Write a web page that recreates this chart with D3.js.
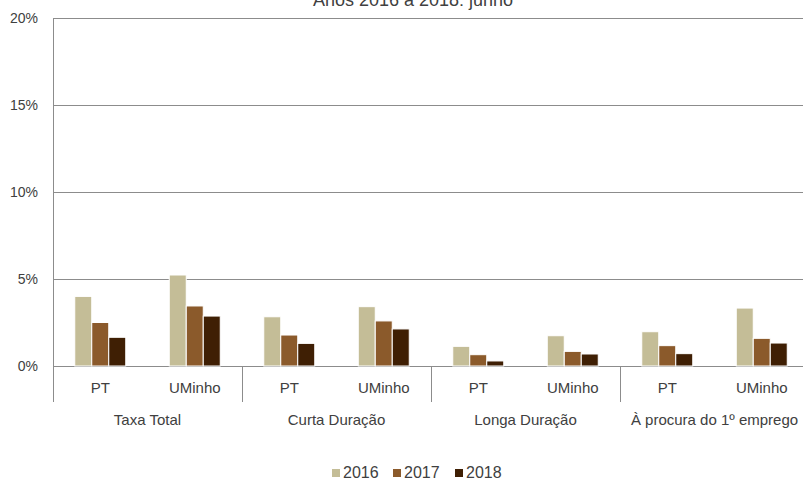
<!DOCTYPE html>
<html>
<head>
<meta charset="utf-8">
<script src="https://cdn.jsdelivr.net/npm/d3@7"></script>
<style>
  body { margin: 0; background: #fff; }
  text { font-family: "Liberation Sans", Arial, sans-serif; fill: #404040; }
</style>
</head>
<body>
<div id="chart-area"></div>
<script>
var groups = ["Taxa Total", "Curta Duração", "Longa Duração", "À procura do 1º emprego"];
var subgroups = ["PT", "UMinho"];
var years = ["2016", "2017", "2018"];
var colors = ["#c4bd97", "#8b5a2b", "#3f1f04"];

// values per group, [PT, UMinho], each [2016, 2017, 2018] in %
var taxaTotal = [[4.0, 2.5, 1.65], [5.23, 3.45, 2.87]];
var curta     = [[2.83, 1.78, 1.3], [3.41, 2.59, 2.13]];
var longa     = [[1.13, 0.65, 0.29], [1.74, 0.84, 0.69]];
var procura   = [[1.97, 1.17, 0.71], [3.33, 1.59, 1.32]];
var yTicks = [0, 5, 10, 15, 20];

var values = [taxaTotal, curta, longa, procura];

var margin = { top: 18, left: 53 },
    svgWidth = 803,
    svgHeight = 480,
    width = 756,
    height = 348;

var svg = d3.select("#chart-area")
            .append("svg")
            .attr("width", svgWidth)
            .attr("height", svgHeight);

var g = svg.append("g")
           .attr("transform", "translate(" + margin.left + "," + margin.top + ")");

var x0 = d3.scaleBand().domain(groups).range([0, width]);
var x1 = d3.scaleBand().domain(subgroups).range([0, x0.bandwidth()]);
var x2 = d3.scaleBand().domain(years).range([0, 51]);
var y = d3.scaleLinear().domain([0, 20]).range([height, 0]);

// title (partly cut off at top in the original)
svg.append("text")
   .attr("x", 413)
   .attr("y", 6)
   .attr("text-anchor", "middle")
   .style("font-size", "18px")
   .text("Anos 2016 a 2018: junho");

// gridlines
g.selectAll(".grid")
 .data(yTicks)
 .enter().append("line")
 .attr("x1", 0)
 .attr("x2", width)
 .attr("y1", function(d) { return Math.round(y(d)) + 0.5; })
 .attr("y2", function(d) { return Math.round(y(d)) + 0.5; })
 .attr("stroke", "#8c8c8c")
 .attr("stroke-width", 1);

// y tick labels
g.selectAll(".ylab")
 .data(yTicks)
 .enter().append("text")
 .attr("x", -15)
 .attr("y", function(d) { return y(d) + 5; })
 .attr("text-anchor", "end")
 .style("font-size", "14px")
 .text(function(d) { return d + "%"; });

// left axis + group separators
var sepX = [0].concat(groups.slice(1).map(function(d) { return x0(d); }));
g.selectAll(".sep")
 .data(sepX)
 .enter().append("line")
 .attr("x1", function(d) { return Math.round(d) + 0.5; })
 .attr("x2", function(d) { return Math.round(d) + 0.5; })
 .attr("y1", function(d, i) { return i === 0 ? 0 : height; })
 .attr("y2", height + 36)
 .attr("stroke", "#8c8c8c")
 .attr("stroke-width", 1);

// bars
var rows = [];
groups.forEach(function(gr, gi) {
  subgroups.forEach(function(sg, si) {
    years.forEach(function(yr, yi) {
      rows.push({ group: gr, sub: sg, year: yr, yi: yi, value: values[gi][si][yi] });
    });
  });
});

g.selectAll("rect.bar")
 .data(rows)
 .enter().append("rect")
 .attr("class", "bar")
 .attr("x", function(d) { return x0(d.group) + x1(d.sub) + (x1.bandwidth() - 51) / 2 + x2(d.year); })
 .attr("y", function(d) { return y(d.value); })
 .attr("width", x2.bandwidth())
 .attr("height", function(d) { return height - y(d.value); })
 .attr("fill", function(d) { return colors[d.yi]; })
 .attr("stroke", "#fff")
 .attr("stroke-width", 1);

// sub-category and group labels
groups.forEach(function(gr) {
  subgroups.forEach(function(sg) {
    g.append("text")
     .attr("x", x0(gr) + x1(sg) + x1.bandwidth() / 2)
     .attr("y", height + 27)
     .attr("text-anchor", "middle")
     .style("font-size", "15px")
     .text(sg);
  });
  g.append("text")
   .attr("x", x0(gr) + x0.bandwidth() / 2)
   .attr("y", height + 59)
   .attr("text-anchor", "middle")
   .style("font-size", "15px")
   .text(gr);
});

// legend
var legend = svg.append("g").attr("transform", "translate(332,464)");
var lx = [0, 61, 123];
years.forEach(function(yr, i) {
  legend.append("rect")
        .attr("x", lx[i])
        .attr("y", 5)
        .attr("width", 8)
        .attr("height", 8)
        .attr("fill", colors[i]);
  legend.append("text")
        .attr("x", lx[i] + 11)
        .attr("y", 14)
        .style("font-size", "16px")
        .text(yr);
});
</script>
</body>
</html>
